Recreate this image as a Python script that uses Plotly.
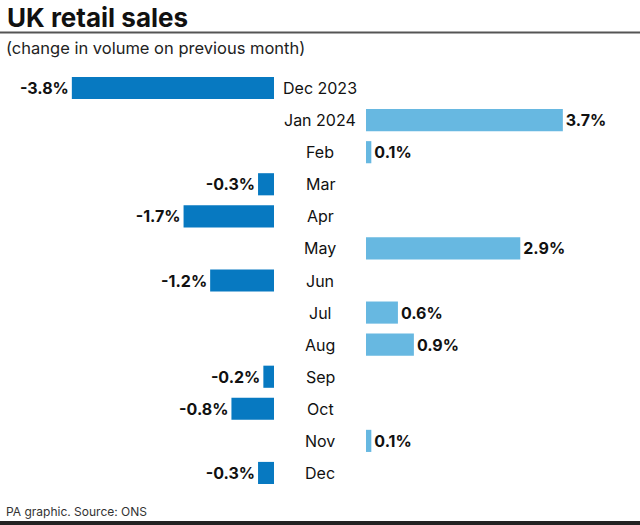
import plotly.graph_objects as go

months = ["Dec 2023", "Jan 2024", "Feb", "Mar", "Apr", "May", "Jun",
          "Jul", "Aug", "Sep", "Oct", "Nov", "Dec"]
change = [-3.8, 3.7, 0.1, -0.3, -1.7, 2.9, -1.2, 0.6, 0.9, -0.2, -0.8, 0.1, -0.3]

NEG_COLOR = "#0779c1"
POS_COLOR = "#67b8e1"
FONT = "Inter"

neg_vals = [v if v < 0 else None for v in change]
pos_vals = [v if v > 0 else None for v in change]
neg_text = [f"{v:.1f}%" if v < 0 else "" for v in change]
pos_text = [f"{v:.1f}%" if v > 0 else "" for v in change]

W, H = 640, 525
px_per_unit = 53.2
left_end = 274
right_start = 366

fig = go.Figure()
fig.add_trace(go.Bar(
    y=months, x=neg_vals, orientation="h", marker=dict(color=NEG_COLOR, line=dict(width=0)),
    text=neg_text, textposition="outside", cliponaxis=False,
    textfont=dict(family=FONT, size=16, color="#111111", weight="bold"),
    width=0.69, xaxis="x", yaxis="y", showlegend=False, hoverinfo="skip"))
fig.add_trace(go.Bar(
    y=months, x=pos_vals, orientation="h", marker=dict(color=POS_COLOR, line=dict(width=0)),
    text=pos_text, textposition="outside", cliponaxis=False,
    textfont=dict(family=FONT, size=16, color="#111111", weight="bold"),
    width=0.69, xaxis="x2", yaxis="y", showlegend=False, hoverinfo="skip"))

for m in months:
    fig.add_annotation(x=0.5, xref="paper", y=m, yref="y", text=m, showarrow=False,
                       xanchor="center", yanchor="middle",
                       font=dict(family=FONT, size=16, color="#111111"))

top_margin = 72
bot_margin = 36
plot_h = H - top_margin - bot_margin

def py(y_px):
    return 1 - (y_px - top_margin) / plot_h

fig.add_annotation(x=5 / W, y=py(0), xref="paper", yref="paper", yanchor="top", xanchor="left",
                   text="<b>UK retail sales</b>", showarrow=False,
                   font=dict(family=FONT, size=26, color="#111111"))
fig.add_annotation(x=4 / W, y=py(36), xref="paper", yref="paper", yanchor="top", xanchor="left",
                   text="(change in volume on previous month)", showarrow=False,
                   font=dict(family=FONT, size=16.5, color="#222222"))
fig.add_annotation(x=4 / W, y=py(502), xref="paper", yref="paper", yanchor="top", xanchor="left",
                   text="PA graphic. Source: ONS", showarrow=False,
                   font=dict(family=FONT, size=12, color="#333333"))

fig.add_shape(type="line", xref="paper", yref="paper", x0=0, x1=1, y0=py(32.5), y1=py(32.5),
              line=dict(color="#555555", width=2))
fig.add_shape(type="line", xref="paper", yref="paper", x0=0, x1=1, y0=py(523), y1=py(523),
              line=dict(color="#222222", width=4))

fig.update_layout(
    width=W, height=H,
    margin=dict(l=0, r=0, t=top_margin, b=bot_margin),
    paper_bgcolor="white", plot_bgcolor="white",
    barmode="overlay",
    xaxis=dict(domain=[0, left_end / W], range=[-left_end / px_per_unit, 0],
               visible=False, fixedrange=True),
    xaxis2=dict(domain=[right_start / W, 1], range=[0, (W - right_start) / px_per_unit],
                visible=False, fixedrange=True, anchor="y"),
    yaxis=dict(categoryorder="array", categoryarray=months,
               visible=False, fixedrange=True, range=[12.5, -0.5]),
)

fig.write_html("out.html", config={"displayModeBar": False},
               post_script="document.body.style.margin='0';document.body.style.overflow='hidden';")
